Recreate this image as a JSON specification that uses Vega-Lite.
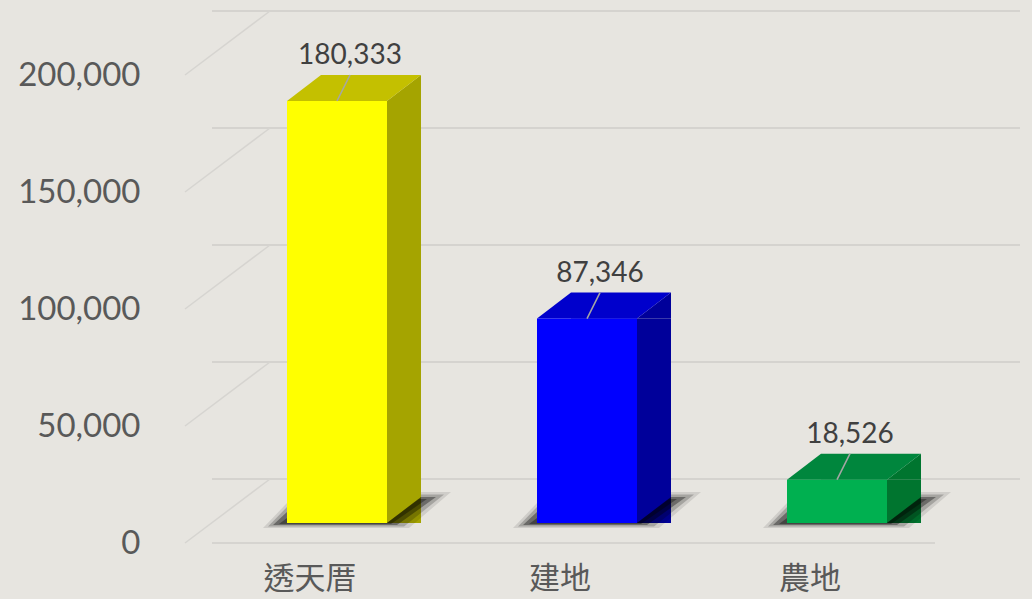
{
  "$schema": "https://vega.github.io/schema/vega-lite/v6.json",
  "width": 750,
  "height": 468,
  "autosize": "none",
  "padding": {"left": 212, "top": 55, "right": 70, "bottom": 76},
  "background": "#E7E5E0",
  "config": {
    "view": {"stroke": null},
    "font": "Lato",
    "numberFormat": ",.0f",
    "axisX": {"labelOffset": -27, "labelPadding": 41, "ticks": false, "tickSize": 0, "domain": false, "grid": false, "labelFontSize": 31, "labelFont": "Noto Sans CJK TC", "labelColor": "#595959", "labelAngle": 0},
    "axisY": {"labelOffset": 20, "labelPadding": 72, "ticks": false, "tickSize": 0, "domain": false, "grid": false, "labelFontSize": 33, "labelFont": "Lato", "labelColor": "#595959", "tickCount": 5}
  },
  "datasets": {
    "bars": [
      {"category": "透天厝", "value": 180333},
      {"category": "建地", "value": 87346},
      {"category": "農地", "value": 18526}
    ],
    "ticks": [{"v": 0}, {"v": 50000}, {"v": 100000}, {"v": 150000}, {"v": 200000}]
  },
  "resolve": {"scale": {"color": "independent"}},
  "layer": [
    {
      "data": {"name": "ticks"},
      "mark": {"type": "rule", "yOffset": -44, "y2Offset": -44, "xOffset": 58, "x2Offset": 58, "color": "#D5D3CF", "strokeWidth": 2},
      "encoding": {"y": {"field": "v", "type": "quantitative", "title": null, "axis": {"format": ",.0f"}, "scale": {"domain": [0, 200000], "nice": false}}}
    },
    {
      "data": {"name": "ticks"},
      "mark": {"type": "point", "shape": "M -4.02 0.2 L -3.17 -0.44", "size": 40000, "filled": false, "strokeWidth": 1.5, "color": "#D6D4D0", "opacity": 1},
      "encoding": {"y": {"field": "v", "type": "quantitative", "title": null, "axis": {"format": ",.0f"}}}
    },
    {
      "data": {"name": "ticks"},
      "transform": [{"filter": "datum.v === 0"}],
      "mark": {"type": "rule", "yOffset": 20, "y2Offset": 20, "xOffset": -27, "x2Offset": -27, "color": "#D6D4D0", "strokeWidth": 2},
      "encoding": {"y": {"field": "v", "type": "quantitative", "title": null, "axis": {"format": ",.0f"}}}
    },
    {
      "data": {"name": "bars"},
      "mark": {"type": "bar", "xOffset": 34, "x2Offset": 34, "y2Offset": -26},
      "encoding": {
        "x": {"field": "category", "type": "nominal", "sort": null, "title": null, "scale": {"paddingInner": 0.6, "paddingOuter": 0.3}},
        "y": {"field": "value", "type": "quantitative", "title": null, "axis": {"format": ",.0f"}},
        "color": {"field": "category", "type": "nominal", "legend": null, "scale": {"domain": ["透天厝", "建地", "農地"], "range": ["#A5A400", "#00009A", "#00752F"]}}
      }
    },
    {
      "data": {"name": "bars"},
      "mark": {"type": "point", "shape": "M 1 0 L 1.68 -0.52 L 1.68 0 Z", "size": 10000, "filled": true, "opacity": 1},
      "encoding": {
        "x": {"field": "category", "type": "nominal", "sort": null, "title": null},
        "y": {"field": "value", "type": "quantitative", "title": null, "axis": {"format": ",.0f"}},
        "color": {"field": "category", "type": "nominal", "legend": null, "scale": {"domain": ["透天厝", "建地", "農地"], "range": ["#A5A400", "#00009A", "#00752F"]}}
      }
    },
    {
      "data": {"name": "bars"},
      "mark": {"type": "point", "shape": "M 1 -0.52 L 1 0 L 1.68 -0.52 Z", "size": 10000, "filled": true, "opacity": 1},
      "encoding": {
        "x": {"field": "category", "type": "nominal", "sort": null, "title": null},
        "y": {"datum": 0, "type": "quantitative", "axis": {"format": ",.0f"}},
        "color": {"field": "category", "type": "nominal", "legend": null, "scale": {"domain": ["透天厝", "建地", "農地"], "range": ["#A5A400", "#00009A", "#00752F"]}}
      }
    },
    {
      "data": {"name": "bars"},
      "mark": {"type": "point", "shape": "M -1 0 L 1 0 L 1.68 -0.52 L -0.32 -0.52 Z", "size": 10000, "filled": true, "opacity": 1},
      "encoding": {
        "x": {"field": "category", "type": "nominal", "sort": null, "title": null},
        "y": {"field": "value", "type": "quantitative", "title": null, "axis": {"format": ",.0f"}},
        "color": {"field": "category", "type": "nominal", "legend": null, "scale": {"domain": ["透天厝", "建地", "農地"], "range": ["#C4C000", "#0000CC", "#00863D"]}}
      }
    },
    {
      "data": {"name": "bars"},
      "mark": {"type": "point", "shape": "M -1.48 0.1 L 1.44 0.1 L 2.28 -0.62 L 1.68 -0.62 L 1.68 -0.52 L 1 0 L -1 0 L -1 -0.4 Z", "size": 10000, "filled": true, "color": "#000000", "opacity": 0.1},
      "encoding": {
        "x": {"field": "category", "type": "nominal", "sort": null, "title": null},
        "y": {"datum": 0, "type": "quantitative", "axis": {"format": ",.0f"}}
      }
    },
    {
      "data": {"name": "bars"},
      "mark": {"type": "point", "shape": "M -1.38 0.07 L 1.34 0.07 L 2.14 -0.57 L 1.68 -0.57 L 1.68 -0.52 L 1 0 L -1 0 L -1 -0.32 Z", "size": 10000, "filled": true, "color": "#000000", "opacity": 0.2},
      "encoding": {
        "x": {"field": "category", "type": "nominal", "sort": null, "title": null},
        "y": {"datum": 0, "type": "quantitative", "axis": {"format": ",.0f"}}
      }
    },
    {
      "data": {"name": "bars"},
      "mark": {"type": "point", "shape": "M -1.28 0.04 L 1.2 0.04 L 1.98 -0.52 L 1.68 -0.52 L 1 0 L -1 0 L -1 -0.22 Z", "size": 10000, "filled": true, "color": "#000000", "opacity": 0.35},
      "encoding": {
        "x": {"field": "category", "type": "nominal", "sort": null, "title": null},
        "y": {"datum": 0, "type": "quantitative", "axis": {"format": ",.0f"}}
      }
    },
    {
      "data": {"name": "bars"},
      "mark": {"type": "point", "shape": "M -1.16 0.02 L 1.08 0.02 L 1.8 -0.48 L 1.64 -0.48 L 1 0 L -1 0 L -1 -0.1 Z", "size": 10000, "filled": true, "color": "#000000", "opacity": 0.35},
      "encoding": {
        "x": {"field": "category", "type": "nominal", "sort": null, "title": null},
        "y": {"datum": 0, "type": "quantitative", "axis": {"format": ",.0f"}}
      }
    },
    {
      "data": {"name": "bars"},
      "mark": {"type": "bar"},
      "encoding": {
        "x": {"field": "category", "type": "nominal", "sort": null, "title": null},
        "y": {"field": "value", "type": "quantitative", "title": null, "axis": {"format": ",.0f"}},
        "color": {"field": "category", "type": "nominal", "legend": null, "scale": {"domain": ["透天厝", "建地", "農地"], "range": ["#FFFF00", "#0000FF", "#00B050"]}}
      }
    },
    {
      "data": {"name": "bars"},
      "mark": {"type": "point", "shape": "M 0 0 L 0.26 -0.52", "size": 10000, "filled": false, "strokeWidth": 1.5, "color": "#A6A6A6", "opacity": 1},
      "encoding": {
        "x": {"field": "category", "type": "nominal", "sort": null, "title": null},
        "y": {"field": "value", "type": "quantitative", "title": null, "axis": {"format": ",.0f"}}
      }
    },
    {
      "data": {"name": "bars"},
      "mark": {"type": "text", "dx": 13, "dy": -37, "baseline": "alphabetic", "align": "center", "fontSize": 28, "font": "Lato", "color": "#404040"},
      "encoding": {
        "x": {"field": "category", "type": "nominal", "sort": null, "title": null},
        "y": {"field": "value", "type": "quantitative", "title": null, "axis": {"format": ",.0f"}},
        "text": {"field": "value", "type": "quantitative", "format": ","}
      }
    }
  ]
}
